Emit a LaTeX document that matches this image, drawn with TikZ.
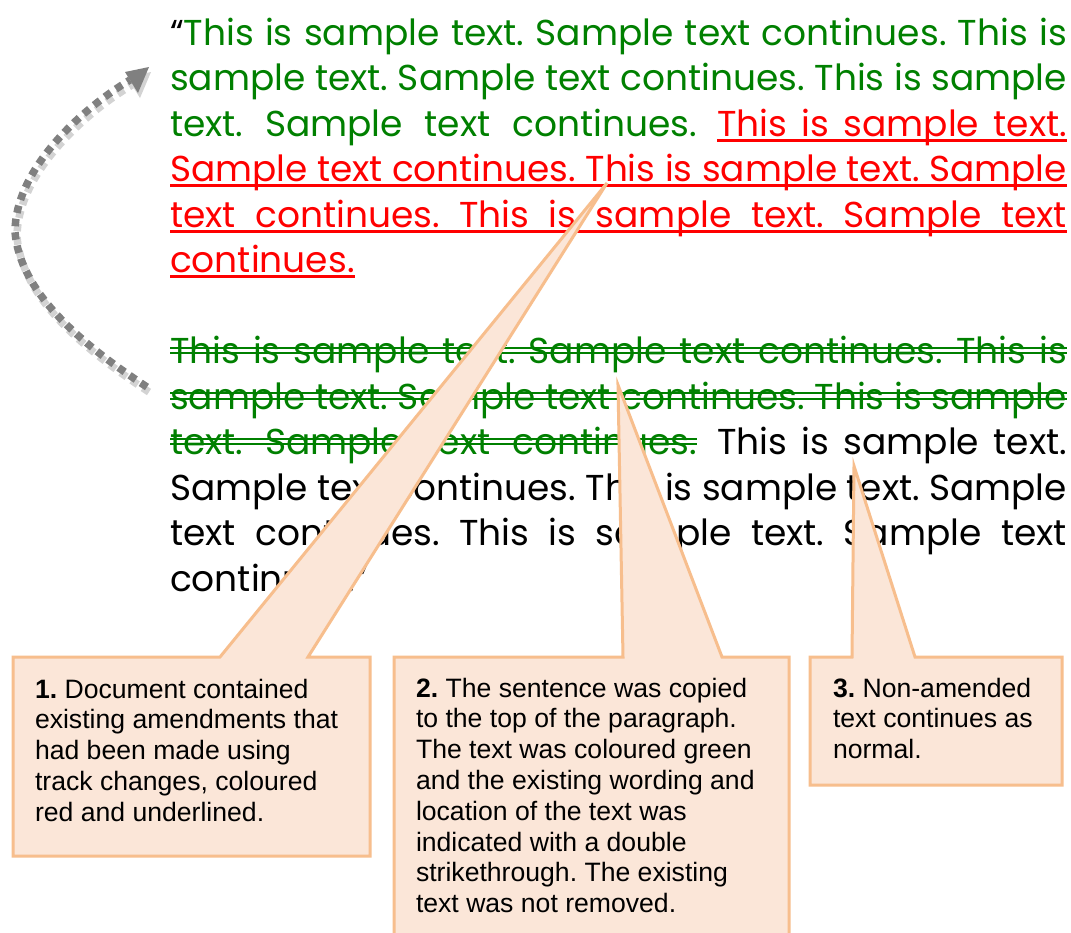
\documentclass[tikz,border=0pt]{standalone}
\usepackage{fontspec}
\usepackage{graphicx}
\setmainfont{Liberation Sans}
\newfontfamily\cgfont{Poppins}
\frenchspacing
\definecolor{tgreen}{HTML}{008000}
\definecolor{tred}{HTML}{FF0000}
\definecolor{cofill}{HTML}{FBE6D8}
\definecolor{coline}{HTML}{F7BE8D}
\definecolor{arrgray}{HTML}{808080}
\definecolor{arrshade}{HTML}{D3D3D3}
\newcommand\jl[2]{%
  \setbox0=\hbox{#2}%
  \ifdim\wd0>#1\relax
    \pgfmathsetmacro\fitfac{#1/\the\wd0}\scalebox{\fitfac}[1]{\box0}%
  \else\makebox[#1][s]{#2}\fi}
\tikzset{
  tl/.style={anchor=base west, inner sep=0pt, outer sep=0pt, font=\cgfont\frenchspacing\fontsize{36}{44}\selectfont},
  ulred/.style={draw=tred, line width=3pt},
  strk/.style={draw=tgreen, line width=2pt},
  callout/.style={fill=cofill, draw=coline, line width=3pt, line join=miter},
  cotext/.style={anchor=base west, inner sep=0pt, outer sep=0pt},
  arrdots/.style={line width=7.5pt, dash pattern=on 7.5pt off 6pt, line cap=butt},
}
\newcommand\cotxt[1]{\parbox[t]{380pt}{\raggedright\frenchspacing\fontsize{26.6}{30.8}\selectfont #1}}
\begin{document}
\begin{tikzpicture}[x=1pt,y=-1pt]
\useasboundingbox[fill=white] (0,0) rectangle (1071,932);
% ---- main paragraph ----
\node[tl, text=tgreen] (l1) at (170,45) {\jl{897pt}{{\color{black}“}This is sample text. Sample text continues. This is}};
\node[tl, text=tgreen] (l2) at (170,90.5) {\jl{897pt}{sample text. Sample text continues. This is sample}};
\node[tl, text=tgreen] (l3a) at (170,136) {\jl{527pt}{text. Sample text continues.}};
\node[tl, text=tred] (l3b) at (717,136) {\jl{350pt}{This is sample text.}};
\node[tl, text=tred] (l4) at (170,181.5) {\jl{897pt}{Sample text continues. This is sample text. Sample}};
\node[tl, text=tred] (l5) at (170,227) {\jl{897pt}{text continues. This is sample text. Sample text}};
\node[tl, text=tred] (l6) at (170,272.5) {continues.};
\node[tl, text=tgreen] (l7) at (170,363.5) {\jl{897pt}{This is sample text. Sample text continues. This is}};
\node[tl, text=tgreen] (l8) at (170,409) {\jl{897pt}{sample text. Sample text continues. This is sample}};
\node[tl, text=tgreen] (l9a) at (170,454.5) {\jl{527pt}{text. Sample text continues.}};
\node[tl, text=black] (l9b) at (717,454.5) {\jl{350pt}{This is sample text.}};
\node[tl, text=black] (l10) at (170,500) {\jl{897pt}{Sample text continues. This is sample text. Sample}};
\node[tl, text=black] (l11) at (170,545.5) {\jl{897pt}{text continues. This is sample text. Sample text}};
\node[tl, text=black] (l12) at (170,591) {continues.”};
% underlines
\foreach \n in {l3b,l4,l5,l6}
  \draw[ulred] ([yshift=-4pt]\n.base west) -- ([yshift=-4pt]\n.base east);
% double strikethrough
\foreach \n in {l7,l8,l9a}{
  \draw[strk] ([yshift=16pt]\n.base west) -- ([yshift=16pt]\n.base east);
  \draw[strk] ([yshift=10.5pt]\n.base west) -- ([yshift=10.5pt]\n.base east);
}
% ---- curved dotted arrow ----
\begin{scope}[shift={(2,5)}]
  \draw[arrdots, draw=arrshade] (147,387) .. controls (75,340) and (20,290) .. (15,232)
        .. controls (15,170) and (80,110) .. (130,80);
  \fill[arrshade] (149,67) -- (125,72) -- (138,93) -- cycle;
\end{scope}
\draw[arrdots, draw=arrgray] (147,387) .. controls (75,340) and (20,290) .. (15,232)
      .. controls (15,170) and (80,110) .. (130,80);
\fill[arrgray] (149,67) -- (125,72) -- (138,93) -- cycle;
% ---- callouts ----
\draw[callout] (13,657) -- (220,657) -- (607,183) -- (308,657) -- (370,657) -- (370,856) -- (13,856) -- cycle;
\draw[callout] (394,657) -- (623,657) -- (618,385) -- (722,657) -- (789,657) -- (789,945) -- (394,945) -- cycle;
\draw[callout] (810,657) -- (852,657) -- (854,466) -- (915,657) -- (1062,657) -- (1062,785) -- (810,785) -- cycle;
\node[cotext] (c1) at (35,698) {\cotxt{\textbf{1.} Document contained\\existing amendments that\\had been made using\\track changes, coloured\\red and underlined.}};
\node[cotext] (c2) at (416,697) {\cotxt{\textbf{2.} The sentence was copied\\to the top of the paragraph.\\The text was coloured green\\and the existing wording and\\location of the text was\\indicated with a double\\strikethrough. The existing\\text was not removed.}};
\node[cotext] (c3) at (833,697) {\cotxt{\textbf{3.} Non-amended\\text continues as\\normal.}};
\end{tikzpicture}
\end{document}
